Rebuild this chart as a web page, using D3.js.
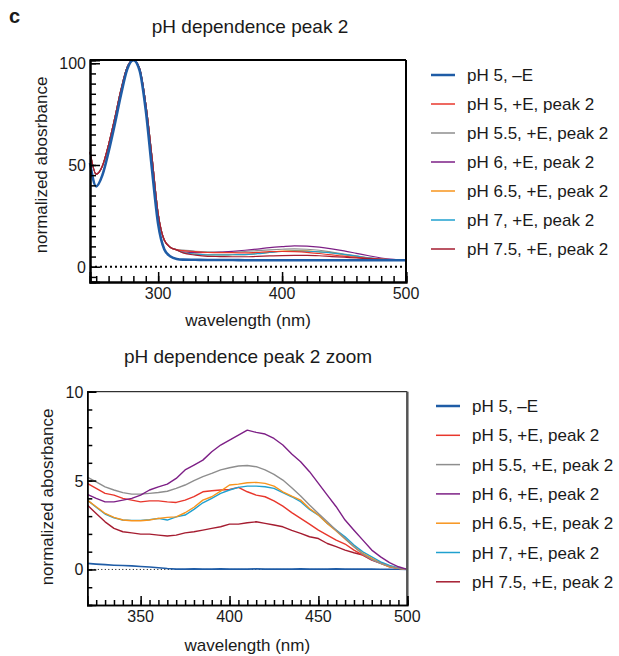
<!DOCTYPE html>
<html>
<head>
<meta charset="utf-8">
<script src="https://cdn.jsdelivr.net/npm/d3@7"></script>
<style>
  body { margin: 0; background: #fff; }
  text { font-family: "Liberation Sans", Arial, Helvetica, sans-serif; fill: #1a1a1a; }
</style>
</head>
<body>
<div class="canvas"></div>
<script>
// legend labels + colours
const labels = ['pH 5, \u2013E', 'pH 5, +E, peak 2', 'pH 5.5, +E, peak 2', 'pH 6, +E, peak 2',
  'pH 6.5, +E, peak 2', 'pH 7, +E, peak 2', 'pH 7.5, +E, peak 2'];
const colors = ['#1f5ca6', '#e8372c', '#8e8e8e', '#7d1f86', '#f7941d', '#1fa0cf', '#a51c30'];

// ---- top panel: full spectrum ----
const uvWl = [245, 250, 255, 260, 265, 270, 275, 280, 285, 290, 295, 300, 305, 310, 315];
const visWl = [320, 330, 340, 350, 360, 370, 380, 390, 400, 410, 420, 430, 440, 450, 460, 470, 480, 490, 500];
const topWl = uvWl.concat(visWl);

const minusEUv = [51, 39.5, 45, 56.5, 70, 84.5, 97, 101.5, 96.5, 77, 48, 21, 8.5, 5, 3.8];
const plusEUv = [56.5, 45.5, 49.5, 60, 73, 87, 98, 101.5, 97.5, 80, 54, 26, 13, 9.5, 8.3];

const topBlueVis = [3.5, 3.4, 3.3, 3.3, 3.3, 3.2, 3.2, 3.2, 3.2, 3.2, 3.2, 3.2, 3.2, 3.2, 3.2, 3.2, 3.2, 3.2, 3.2];
const topRedVis = [7.9, 7.4, 7.0, 6.9, 6.9, 6.8, 7.1, 7.4, 7.5, 7.4, 7.1, 6.5, 5.8, 5.2, 4.6, 4.1, 3.7, 3.4, 3.2];
const topGrayVis = [8.2, 7.6, 7.3, 7.2, 7.3, 7.5, 7.9, 8.3, 8.6, 8.8, 8.6, 8.1, 7.2, 6.2, 5.3, 4.4, 3.8, 3.4, 3.2];
const topPurpleVis = [7.3, 6.9, 7.0, 7.2, 7.6, 8.1, 8.7, 9.4, 9.9, 10.3, 10.1, 9.6, 8.8, 7.8, 6.6, 5.4, 4.3, 3.6, 3.2];
const topOrangeVis = [7.0, 6.2, 5.8, 5.8, 5.9, 6.0, 6.5, 7.1, 7.7, 7.9, 7.8, 7.3, 6.8, 5.9, 5.0, 4.3, 3.7, 3.3, 3.2];
const topTealVis = [7.0, 6.2, 5.8, 5.8, 5.9, 6.0, 6.4, 7.0, 7.5, 7.7, 7.6, 7.3, 6.8, 6.0, 5.2, 4.4, 3.8, 3.4, 3.2];
const topDarkRedVis = [6.8, 5.7, 5.1, 5.0, 4.9, 4.9, 5.1, 5.3, 5.5, 5.6, 5.6, 5.4, 5.0, 4.7, 4.3, 4.0, 3.6, 3.3, 3.2];

// ---- bottom panel: zoom 320-500 nm ----
const zoomWl = d3.range(320, 501, 5);
const zBlue = [0.34, 0.3, 0.27, 0.24, 0.22, 0.2, 0.17, 0.14, 0.1, 0.05, 0.02, 0.02, 0.03, 0.02, 0.02, 0.03, 0.02, 0.02, 0.02, 0.03, 0.02, 0.02, 0.02, 0.02, 0.03, 0.02, 0.02, 0.02, 0.03, 0.02, 0.02, 0.02, 0.02, 0.01, 0.01, 0.01, 0];
const zRed = [4.84, 4.56, 4.28, 4.18, 4.0, 3.9, 3.8, 3.86, 3.86, 3.8, 3.77, 3.9, 4.1, 4.37, 4.43, 4.47, 4.5, 4.62, 4.37, 4.18, 4.09, 3.86, 3.56, 3.2, 2.87, 2.55, 2.21, 1.93, 1.65, 1.43, 1.09, 0.81, 0.56, 0.38, 0.19, 0.06, 0];
const zGray = [5.2, 4.93, 4.65, 4.47, 4.32, 4.24, 4.24, 4.28, 4.33, 4.4, 4.56, 4.75, 5.0, 5.22, 5.4, 5.6, 5.72, 5.82, 5.85, 5.78, 5.6, 5.35, 5.03, 4.6, 4.13, 3.62, 3.15, 2.68, 2.21, 1.74, 1.28, 0.86, 0.56, 0.34, 0.19, 0.06, 0];
const zPurple = [4.22, 4.0, 3.8, 3.8, 3.9, 4.0, 4.18, 4.47, 4.65, 4.8, 5.12, 5.6, 5.87, 6.15, 6.62, 7.0, 7.28, 7.56, 7.84, 7.71, 7.62, 7.37, 7.0, 6.5, 6.06, 5.5, 4.84, 4.18, 3.53, 2.78, 2.21, 1.65, 1.09, 0.71, 0.38, 0.15, 0];
const zOrange = [3.9, 3.53, 3.15, 2.93, 2.78, 2.74, 2.74, 2.78, 2.87, 2.93, 2.96, 3.19, 3.5, 3.9, 4.09, 4.41, 4.75, 4.8, 4.88, 4.9, 4.84, 4.69, 4.37, 4.12, 3.9, 3.43, 3.06, 2.59, 2.16, 1.71, 1.28, 0.9, 0.62, 0.34, 0.15, 0.06, 0];
const zTeal = [3.9, 3.5, 3.12, 2.9, 2.78, 2.76, 2.76, 2.8, 2.87, 2.78, 2.96, 3.06, 3.38, 3.75, 4.0, 4.28, 4.47, 4.62, 4.69, 4.69, 4.65, 4.56, 4.32, 4.09, 3.81, 3.38, 3.06, 2.59, 2.21, 1.84, 1.37, 0.99, 0.71, 0.43, 0.23, 0.08, 0];
const zDarkRed = [3.62, 3.15, 2.68, 2.31, 2.12, 2.06, 1.99, 1.99, 1.93, 1.88, 1.93, 2.06, 2.12, 2.21, 2.31, 2.4, 2.55, 2.55, 2.63, 2.68, 2.59, 2.5, 2.4, 2.2, 2.03, 1.84, 1.74, 1.46, 1.28, 1.09, 0.94, 0.81, 0.53, 0.34, 0.15, 0.06, 0];

// tick labels
const topXTicks = [300, 400, 500];
const topYTicks = [0, 50, 100];
const zoomXTicks = [350, 400, 450, 500];
const zoomYTicks = [0, 5, 10];

const topSeries = [
  { idx: 2, vals: plusEUv.concat(topGrayVis) },
  { idx: 3, vals: plusEUv.concat(topPurpleVis) },
  { idx: 4, vals: plusEUv.concat(topOrangeVis) },
  { idx: 5, vals: plusEUv.concat(topTealVis) },
  { idx: 1, vals: plusEUv.concat(topRedVis) },
  { idx: 6, vals: plusEUv.concat(topDarkRedVis) },
  { idx: 0, vals: minusEUv.concat(topBlueVis) }
];
const zoomSeries = [
  { idx: 0, vals: zBlue },
  { idx: 6, vals: zDarkRed },
  { idx: 1, vals: zRed },
  { idx: 5, vals: zTeal },
  { idx: 4, vals: zOrange },
  { idx: 2, vals: zGray },
  { idx: 3, vals: zPurple }
];

const svg = d3.select('.canvas').append('svg').attr('width', 619).attr('height', 656);

svg.append('text').attr('x', 9).attr('y', 23).attr('font-size', 20).attr('font-weight', 'bold').text('c');

const drawPanel = opts => {
  const x = d3.scaleLinear().domain(opts.xDomain).range([opts.left, opts.right]);
  const y = d3.scaleLinear().domain(opts.yDomain).range([opts.bottom, opts.top]);
  const g = svg.append('g');

  // title
  g.append('text')
    .attr('x', opts.titleX).attr('y', opts.titleY)
    .attr('text-anchor', 'middle').attr('font-size', 19)
    .text(opts.title);

  // zero dotted line
  g.append('line')
    .attr('x1', opts.left).attr('x2', opts.right)
    .attr('y1', y(0)).attr('y2', y(0))
    .attr('stroke', '#000').attr('stroke-width', opts.dotW)
    .attr('stroke-dasharray', opts.dotDash);

  // spectra
  const line = d3.line()
    .x((d, i) => x(opts.wl[i]))
    .y(d => y(d))
    .curve(opts.curve);
  opts.series.forEach(s => {
    g.append('path')
      .attr('d', line(s.vals))
      .attr('fill', 'none')
      .attr('stroke', colors[s.idx])
      .attr('stroke-width', s.idx === 0 ? opts.blueW : opts.lineW)
      .attr('stroke-linejoin', 'round');
  });

  // frame
  g.append('line').attr('x1', opts.left).attr('x2', opts.right).attr('y1', opts.top).attr('y2', opts.top)
    .attr('stroke', '#000').attr('stroke-width', opts.topW);
  g.append('line').attr('x1', opts.right).attr('x2', opts.right).attr('y1', opts.top).attr('y2', opts.bottom)
    .attr('stroke', opts.rightC).attr('stroke-width', opts.rightW);

  // axes with inward ticks
  const xMinor = d3.axisTop(x).tickValues(opts.xMinor).tickSize(opts.minorLen).tickFormat('');
  const xMajor = d3.axisTop(x).tickValues(opts.xTicks).tickSize(opts.majorLen).tickFormat('');
  const yMinor = d3.axisRight(y).tickValues(opts.yMinor).tickSize(opts.minorLen).tickFormat('');
  const yMajor = d3.axisRight(y).tickValues(opts.yTicks).tickSize(opts.majorLen).tickFormat('');
  [xMinor, xMajor].forEach(a => {
    g.append('g').attr('transform', `translate(0, ${opts.bottom})`).call(a)
      .call(s => s.select('.domain').attr('stroke-width', opts.axisW))
      .call(s => s.selectAll('.tick line').attr('stroke-width', 1.5));
  });
  [yMinor, yMajor].forEach(a => {
    g.append('g').attr('transform', `translate(${opts.left}, 0)`).call(a)
      .call(s => s.select('.domain').attr('stroke-width', opts.axisW))
      .call(s => s.selectAll('.tick line').attr('stroke-width', 1.5));
  });

  // tick labels
  g.selectAll(null).data(opts.xTicks).enter().append('text')
    .attr('x', d => x(d)).attr('y', opts.bottom + 17)
    .attr('text-anchor', 'middle').attr('font-size', 16).text(d => d);
  g.selectAll(null).data(opts.yTicks).enter().append('text')
    .attr('x', opts.left - 4).attr('y', d => y(d) + 6)
    .attr('text-anchor', 'end').attr('font-size', 16).text(d => d);

  // axis titles
  g.append('text')
    .attr('x', (opts.left + opts.right) / 2).attr('y', opts.xLabelY)
    .attr('text-anchor', 'middle').attr('font-size', 17).text('wavelength (nm)');
  g.append('text')
    .attr('transform', `translate(${opts.yLabelX}, ${opts.yLabelMid}) rotate(-90)`)
    .attr('text-anchor', 'middle').attr('font-size', 17).text('normalized abosrbance');

  // legend
  const leg = g.append('g');
  labels.forEach((lab, i) => {
    const ly = opts.legY + i * opts.legStep;
    leg.append('line')
      .attr('x1', opts.legX).attr('x2', opts.legX + 24).attr('y1', ly).attr('y2', ly)
      .attr('stroke', colors[i]).attr('stroke-width', i === 0 ? 2.5 : 1.5);
    leg.append('text')
      .attr('x', opts.legX + 36).attr('y', ly + 6)
      .attr('font-size', 17).text(lab);
  });
};

drawPanel({
  title: 'pH dependence peak 2', titleX: 250, titleY: 33,
  left: 90, right: 406, top: 60, bottom: 282,
  xDomain: [245, 500], yDomain: [-7.5, 101.6],
  wl: topWl, series: topSeries, curve: d3.curveMonotoneX,
  xTicks: topXTicks, yTicks: topYTicks,
  xMinor: d3.range(250, 501, 10), yMinor: d3.range(-5, 101, 5),
  minorLen: 6, majorLen: 10,
  lineW: 1.2, blueW: 2.6, axisW: 2, topW: 2, rightW: 2, rightC: '#000',
  dotW: 2, dotDash: '2,3',
  xLabelY: 326, yLabelX: 47, yLabelMid: 165,
  legX: 431, legY: 75, legStep: 29
});

drawPanel({
  title: 'pH dependence peak 2 zoom', titleX: 248, titleY: 363,
  left: 87.3, right: 407.3, top: 391.7, bottom: 605,
  xDomain: [320, 500], yDomain: [-2, 10],
  wl: zoomWl, series: zoomSeries, curve: d3.curveLinear,
  xTicks: zoomXTicks, yTicks: zoomYTicks,
  xMinor: d3.range(325, 501, 5), yMinor: d3.range(-2, 11, 1),
  minorLen: 5, majorLen: 9,
  lineW: 1.4, blueW: 1.6, axisW: 1.5, topW: 1, rightW: 2.5, rightC: '#555',
  dotW: 1, dotDash: '1,2.5',
  xLabelY: 651, yLabelX: 53, yLabelMid: 497,
  legX: 436, legY: 406, legStep: 29.3
});
</script>
</body>
</html>
